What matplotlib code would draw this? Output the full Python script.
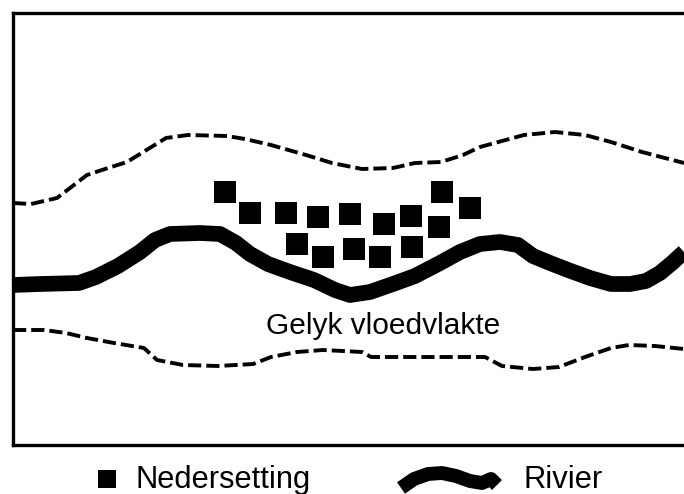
import matplotlib
matplotlib.use("Agg")
import matplotlib.pyplot as plt

plt.rcParams["font.family"] = ["Liberation Sans", "DejaVu Sans"]
plt.rcParams["lines.scale_dashes"] = False

# picture is laid out in pixel units (x right, y down)
W, H = 684, 494
frame_left, frame_top, frame_bottom = 13, 13, 445

upper_x = [13, 31, 57, 70, 87, 105, 127, 140, 166, 188, 227, 245, 271, 306, 332,
           362, 393, 415, 441, 463, 480, 524, 555, 585, 611, 642, 684]
upper_y = [203, 204, 198, 188, 175, 169, 162, 154, 138, 135, 136, 139, 145, 155, 163,
           169, 168, 163, 162, 155, 147, 135, 132, 135, 142, 152, 163]

lower_x = [13, 44, 66, 87, 114, 144, 157, 183, 218, 253, 271, 297, 323, 362, 371,
           437, 485, 502, 533, 559, 585, 611, 629, 655, 684]
lower_y = [330, 330, 333, 338, 343, 348, 360, 365, 366, 364, 357, 352, 350, 352, 357,
           357, 357, 366, 369, 367, 357, 348, 345, 346, 349]

river_x = [13, 40, 79, 96, 118, 140, 155, 170, 200, 220, 236, 250, 268, 290, 314, 335,
           350, 370, 393, 415, 440, 460, 480, 500, 518, 533, 550, 568, 590, 611, 630,
           646, 660, 672, 684]
river_y = [285, 284, 283, 277, 266, 252, 240, 234, 233, 234, 243, 254, 264, 272, 280,
           290, 295, 292, 284, 276, 263, 252, 244, 242, 245, 256, 263, 270, 278, 284,
           284, 281, 273, 263, 252]

settle_x = [225, 250, 286, 318, 350, 384, 411, 442, 470, 439, 297, 323, 354, 380, 412]
settle_y = [192, 213, 213, 217, 214, 224, 216, 192, 208, 227, 244, 257, 249, 257, 247]

key_river_x = [401, 414, 428, 442, 456, 470, 482, 491, 497]
key_river_y = [488, 479, 474, 473, 476, 481, 483, 479, 485]

fig = plt.figure(figsize=(W / 100, H / 100), dpi=100)
fig.patch.set_facecolor("white")

ax = fig.add_axes([frame_left / W, (H - frame_bottom) / H,
                   (W - frame_left) / W, (frame_bottom - frame_top) / H])
ax.set_xlim(frame_left, W)
ax.set_ylim(frame_bottom, frame_top)
ax.set_xticks([])
ax.set_yticks([])
ax.spines["right"].set_visible(False)
for side in ["left", "top", "bottom"]:
    ax.spines[side].set_linewidth(2.4)

dash = (0, (9.5, 3.6))
ax.plot(upper_x, upper_y, color="black", lw=2.8, linestyle=dash)
ax.plot(lower_x, lower_y, color="black", lw=2.8, linestyle=dash)
ax.plot(river_x, river_y, color="black", lw=11.3,
        solid_joinstyle="round", solid_capstyle="butt")
ax.plot(settle_x, settle_y, "s", color="black", markersize=15.5, markeredgewidth=0)
ax.text(383, 334, "Gelyk vloedvlakte", fontsize=21.5, ha="center", va="baseline")

# key below the frame
key = fig.add_axes([0, 0, 1, 1])
key.set_xlim(0, W)
key.set_ylim(H, 0)
key.axis("off")
key.plot([106.5], [479], "s", color="black", markersize=13, markeredgewidth=0)
key.text(135, 488, "Nedersetting", fontsize=22.2, va="baseline")
key.plot(key_river_x, key_river_y, color="black", lw=10,
         solid_joinstyle="round", solid_capstyle="butt")
key.text(523, 488, "Rivier", fontsize=22.2, va="baseline")

fig.savefig("out.png", dpi=100)
